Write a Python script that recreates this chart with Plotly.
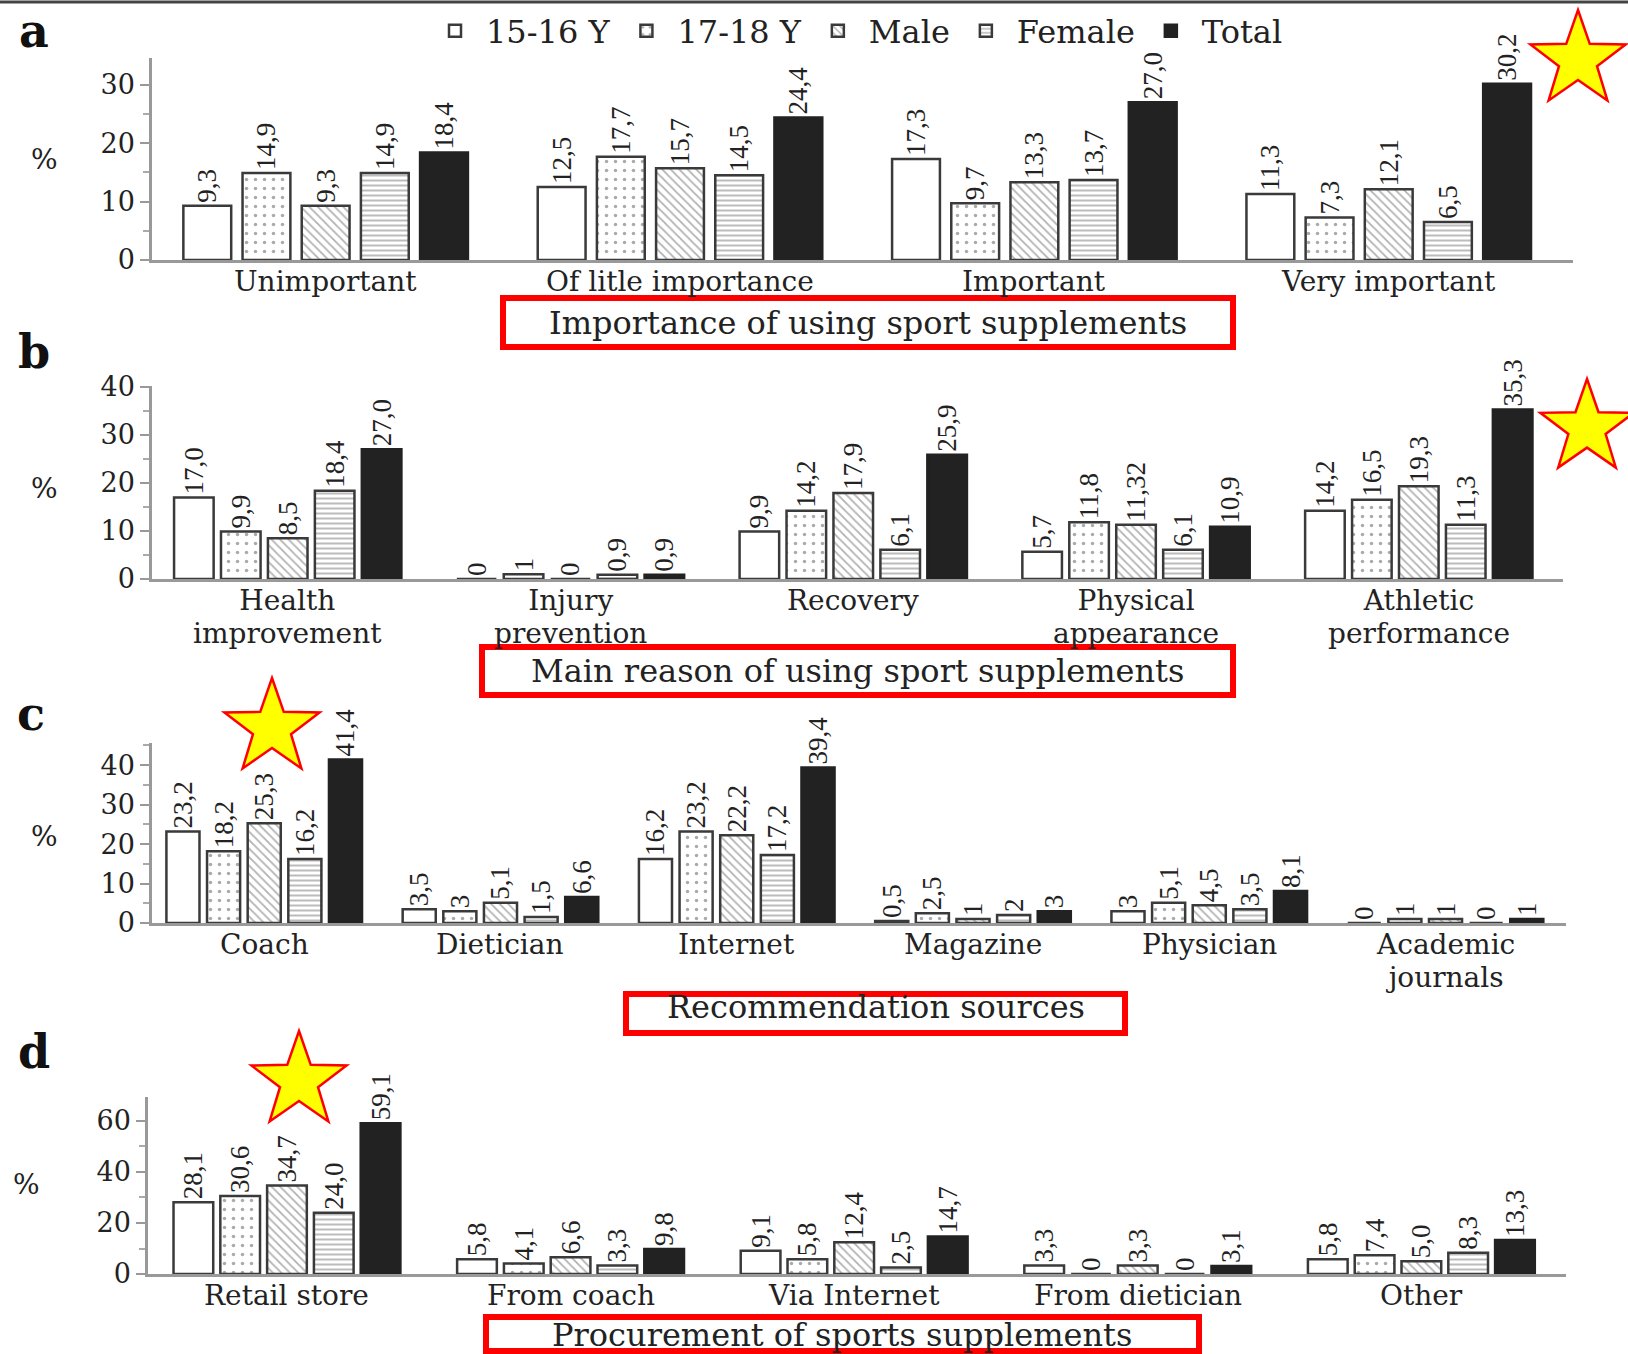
import math
import plotly.graph_objects as go

W, H = 1628, 1354

series = ["15-16 Y", "17-18 Y", "Male", "Female", "Total"]

# ---- Panel a: Importance of using sport supplements
a_categories = ["Unimportant", "Of litle importance", "Important", "Very important"]
a_1516 = ["9,3", "12,5", "17,3", "11,3"]
a_1718 = ["14,9", "17,7", "9,7", "7,3"]
a_male = ["9,3", "15,7", "13,3", "12,1"]
a_female = ["14,9", "14,5", "13,7", "6,5"]
a_total = ["18,4", "24,4", "27,0", "30,2"]
a_ticks = [0, 10, 20, 30]

# ---- Panel b: Main reason of using sport supplements
b_categories = ["Health<br>improvement", "Injury<br>prevention", "Recovery",
                "Physical<br>appearance", "Athletic<br>performance"]
b_1516 = ["17,0", "0", "9,9", "5,7", "14,2"]
b_1718 = ["9,9", "1", "14,2", "11,8", "16,5"]
b_male = ["8,5", "0", "17,9", "11,32", "19,3"]
b_female = ["18,4", "0,9", "6,1", "6,1", "11,3"]
b_total = ["27,0", "0,9", "25,9", "10,9", "35,3"]
b_ticks = [0, 10, 20, 30, 40]

# ---- Panel c: Recommendation sources
c_categories = ["Coach", "Dietician", "Internet", "Magazine", "Physician",
                "Academic<br>journals"]
c_1516 = ["23,2", "3,5", "16,2", "0,5", "3", "0"]
c_1718 = ["18,2", "3", "23,2", "2,5", "5,1", "1"]
c_male = ["25,3", "5,1", "22,2", "1", "4,5", "1"]
c_female = ["16,2", "1,5", "17,2", "2", "3,5", "0"]
c_total = ["41,4", "6,6", "39,4", "3", "8,1", "1"]
c_ticks = [0, 10, 20, 30, 40]

# ---- Panel d: Procurement of sports supplements
d_categories = ["Retail store", "From coach", "Via Internet", "From dietician", "Other"]
d_1516 = ["28,1", "5,8", "9,1", "3,3", "5,8"]
d_1718 = ["30,6", "4,1", "5,8", "0", "7,4"]
d_male = ["34,7", "6,6", "12,4", "3,3", "5,0"]
d_female = ["24,0", "3,3", "2,5", "0", "8,3"]
d_total = ["59,1", "9,8", "14,7", "3,1", "13,3"]
d_ticks = [0, 20, 40, 60]

panel_titles = ["Importance of using sport supplements",
                "Main reason of using sport supplements",
                "Recommendation sources",
                "Procurement of sports supplements"]
panel_letters = ["a", "b", "c", "d"]

# ---------------- styling / layout (pixel geometry) ----------------
def px_x(x):
    return x / W

def px_y(y):
    return 1 - y / H

panels = [
    dict(cats=a_categories, data=[a_1516, a_1718, a_male, a_female, a_total], ticks=a_ticks,
         minor=5, yr=[0, 34.6], ypx=(260, 58), xpx=(152, 1573), xr=[-0.49, 3.52],
         pitch=0.167, bw=0.135),
    dict(cats=b_categories, data=[b_1516, b_1718, b_male, b_female, b_total], ticks=b_ticks,
         minor=5, yr=[0, 40.2], ypx=(579, 386), xpx=(152, 1563), xr=[-0.48, 4.51],
         pitch=0.166, bw=0.14),
    dict(cats=c_categories, data=[c_1516, c_1718, c_male, c_female, c_total], ticks=c_ticks,
         minor=5, yr=[0, 45.6], ypx=(923, 743), xpx=(152, 1566), xr=[-0.475, 5.51],
         pitch=0.172, bw=0.14),
    dict(cats=d_categories, data=[d_1516, d_1718, d_male, d_female, d_total], ticks=d_ticks,
         minor=10, yr=[0, 69.4], ypx=(1274, 1097), xpx=(148, 1566), xr=[-0.49, 4.51],
         pitch=0.165, bw=0.14),
]

styles = [
    dict(color="white", line="#3a3a3a", pattern=None),
    dict(color="white", line="#3a3a3a",
         pattern=dict(shape=".", fgcolor="#555", bgcolor="white", size=9, solidity=0.12)),
    dict(color="white", line="#3a3a3a",
         pattern=dict(shape="\\", fgcolor="#666", bgcolor="white", size=6, solidity=0.3)),
    dict(color="white", line="#3a3a3a",
         pattern=dict(shape="-", fgcolor="#777", bgcolor="white", size=5, solidity=0.4)),
    dict(color="#222222", line="#222222", pattern=None),
]

SERIF = "DejaVu Serif"
LABEL_FONT = "Liberation Serif"
TXT = "#222222"
CAT_SIZE = 28       # glyph size of category labels
CAT_LINE = 25.1     # base size that sets the line spacing of two-line labels

fig = go.Figure()
annotations = []

for p_i, p in enumerate(panels):
    k = p_i + 1
    xa = "x" if k == 1 else f"x{k}"
    ya = "y" if k == 1 else f"y{k}"
    n = len(p["cats"])
    xs = list(range(n))
    for s_i, (name, vals) in enumerate(zip(series, p["data"])):
        st = styles[s_i]
        marker = dict(color=st["color"], line=dict(color=st["line"], width=2.5))
        if st["pattern"]:
            marker["pattern"] = st["pattern"]
        fig.add_trace(go.Bar(
            x=xs,
            y=[float(v.replace(",", ".")) for v in vals],
            text=vals,
            textposition="outside",
            textangle=-90,
            textfont=dict(family=LABEL_FONT, size=27, color=TXT),
            constraintext="none",
            cliponaxis=False,
            name=name,
            legendgroup=name,
            showlegend=(p_i == 0),
            marker=marker,
            width=p["bw"],
            offset=(s_i - 2) * p["pitch"] - p["bw"] / 2,
            xaxis=xa, yaxis=ya,
            hoverinfo="skip",
        ))
    xkey = "xaxis" if k == 1 else f"xaxis{k}"
    ykey = "yaxis" if k == 1 else f"yaxis{k}"
    fig.update_layout(**{
        xkey: dict(domain=[px_x(p["xpx"][0]), px_x(p["xpx"][1])], range=p["xr"],
                   anchor=ya, tickvals=xs, ticktext=p["cats"], showticklabels=False,
                   showgrid=False, zeroline=False, showline=True, linecolor="#999999",
                   linewidth=2.5, ticks="", fixedrange=True),
        ykey: dict(domain=[px_y(p["ypx"][0]), px_y(p["ypx"][1])], range=p["yr"],
                   anchor=xa, tickvals=p["ticks"], showgrid=False, zeroline=False,
                   showline=True, linecolor="#999999", linewidth=2.5,
                   ticks="outside", ticklen=9, tickwidth=2, tickcolor="#999999",
                   minor=dict(dtick=p["minor"], ticks="outside", ticklen=6,
                              tickwidth=2, tickcolor="#aaaaaa"),
                   tickfont=dict(family=SERIF, size=27, color=TXT),
                   fixedrange=True),
    })
    # category labels just under the axis (one text block per category)
    base = p["ypx"][0]
    for i, cat in enumerate(p["cats"]):
        lines = cat.split("<br>")
        txt = "<br>".join(f"<span style='font-size:{CAT_SIZE}px'>{ln}</span>" for ln in lines)
        annotations.append(dict(text=txt, xref=xa, yref="paper", x=i,
                                y=px_y(base + 3), showarrow=False,
                                xanchor="center", yanchor="top",
                                font=dict(family=SERIF, size=CAT_LINE, color=TXT)))

# ---- decorations ----
shapes = []

# top border line
shapes.append(dict(type="line", xref="paper", yref="paper", x0=0, x1=1,
                   y0=px_y(2), y1=px_y(2), line=dict(color="#444444", width=3)))

# red title boxes and texts
boxes = [(503, 298, 1233, 347, 323), (482, 647, 1233, 695, 671),
         (626, 994, 1125, 1033, 1007), (486, 1317, 1199, 1351, 1335)]
for (x0, y0, x1, y1, ty), title in zip(boxes, panel_titles):
    shapes.append(dict(type="rect", xref="paper", yref="paper",
                       x0=px_x(x0), x1=px_x(x1), y0=px_y(y1), y1=px_y(y0),
                       line=dict(color="#ff0000", width=6), fillcolor="rgba(0,0,0,0)"))
    annotations.append(dict(text=title, xref="paper", yref="paper",
                            x=px_x((x0 + x1) / 2), y=px_y(ty), showarrow=False,
                            xanchor="center", yanchor="middle",
                            font=dict(family=SERIF, size=32, color=TXT)))

# panel letters and % labels
letter_pos = [(34, 31), (34, 352), (31, 714), (34, 1052)]
pct_pos = [(44, 159), (44, 488), (44, 836), (26, 1184)]
for L, (lx, ly), (qx, qy) in zip(panel_letters, letter_pos, pct_pos):
    annotations.append(dict(text=f"<b>{L}</b>", xref="paper", yref="paper",
                            x=px_x(lx), y=px_y(ly), showarrow=False,
                            xanchor="center", yanchor="middle",
                            font=dict(family=SERIF, size=46, color="#111111")))
    annotations.append(dict(text="%", xref="paper", yref="paper",
                            x=px_x(qx), y=px_y(qy), showarrow=False,
                            xanchor="center", yanchor="middle",
                            font=dict(family=SERIF, size=28, color=TXT)))

# yellow stars
def star_path(cx, cy, R, ratio=0.4):
    pts = []
    for i in range(10):
        ang = -math.pi / 2 + i * math.pi / 5
        rr = R if i % 2 == 0 else R * ratio
        pts.append((px_x(cx + rr * math.cos(ang)), px_y(cy + rr * math.sin(ang))))
    return "M " + " L ".join(f"{x:.5f},{y:.5f}" for x, y in pts) + " Z"

for cx, cy, R in [(1578, 60, 50), (1587, 428, 49), (272, 728, 50), (299, 1081, 50)]:
    shapes.append(dict(type="path", xref="paper", yref="paper", path=star_path(cx, cy, R),
                       fillcolor="#ffff00", line=dict(color="#ff0000", width=2.5)))

fig.update_layout(
    width=W, height=H,
    margin=dict(l=0, r=0, t=0, b=0, autoexpand=False),
    paper_bgcolor="white", plot_bgcolor="white",
    barmode="overlay",
    shapes=shapes, annotations=annotations,
    legend=dict(orientation="h", x=px_x(424), y=px_y(31), xanchor="left", yanchor="middle",
                font=dict(family=SERIF, size=32, color=TXT), bgcolor="rgba(0,0,0,0)",
                traceorder="normal", itemwidth=52),
    font=dict(family=SERIF, color=TXT),
)

fig.write_html("out.html")
